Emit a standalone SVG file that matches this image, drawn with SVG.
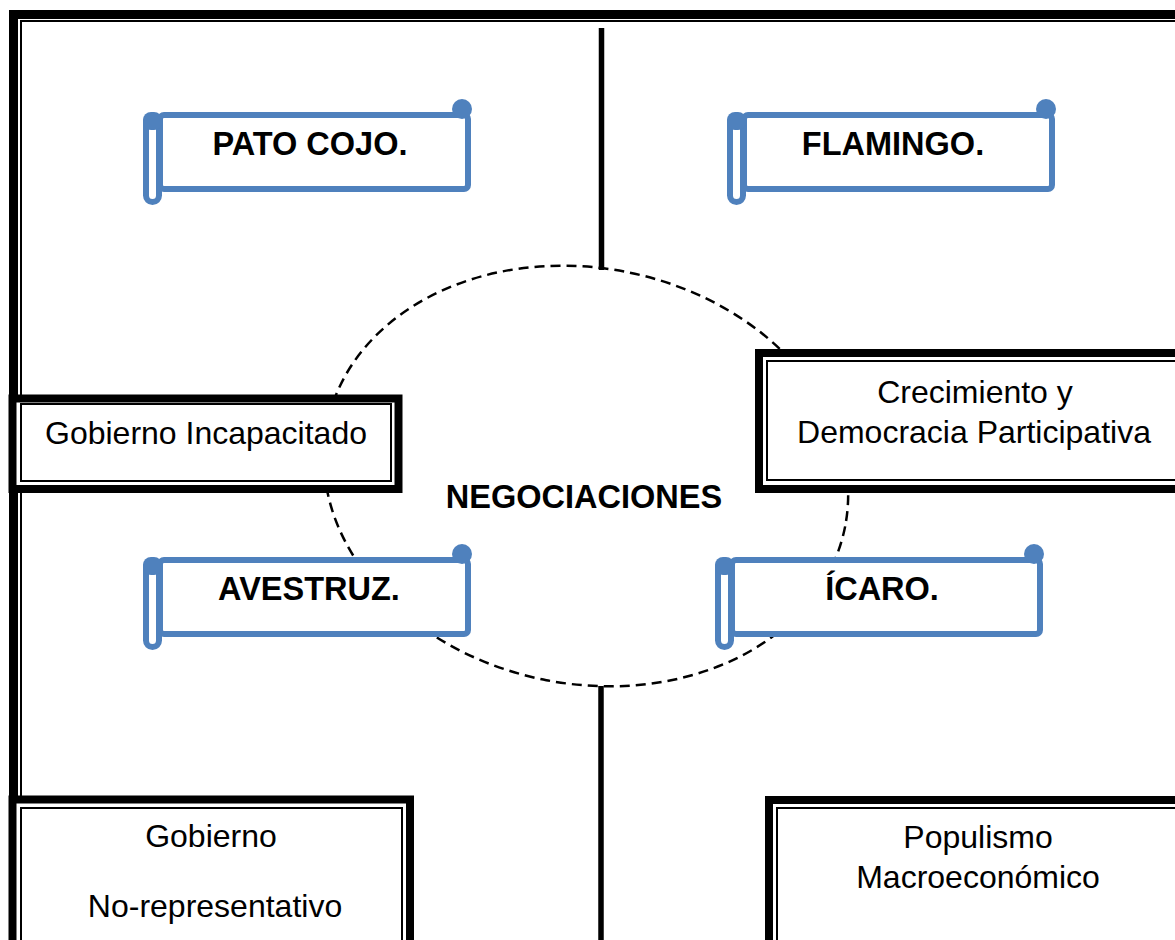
<svg xmlns="http://www.w3.org/2000/svg" width="1175" height="940" viewBox="0 0 1175 940">
<defs>
<style>
.t{font-family:"Liberation Sans",Arial,sans-serif;font-size:32px;fill:#000;text-anchor:middle}
.b{font-weight:bold;font-size:32.5px}
.thick{fill:#fff;stroke:#000;stroke-width:8}
.thin{fill:none;stroke:#000;stroke-width:2}
.sc{fill:#fff;stroke:#4F81BD;stroke-width:6}
.scf{fill:#4F81BD}
</style>
<g id="scrollShape">
<rect class="sc" x="160" y="115" width="308" height="74" rx="4"/>
<circle class="scf" cx="462" cy="109" r="10"/>
<rect x="146" y="116" width="13" height="86" rx="6.5" fill="#fff" stroke="#4F81BD" stroke-width="6"/>
<rect class="scf" x="143" y="112" width="19" height="18" rx="8"/>
</g>
</defs>
<rect width="1175" height="940" fill="#fff"/>
<g id="frame">
<rect x="13.5" y="14.5" width="1300" height="1000" fill="none" stroke="#000" stroke-width="9"/>
<rect class="thin" x="21" y="21" width="1300" height="1000"/>
</g>
<g id="connectors">
<ellipse cx="586" cy="476" rx="264" ry="208" transform="rotate(11 586 476)" fill="none" stroke="#000" stroke-width="2.5" stroke-dasharray="10 6"/>
<line x1="601.5" y1="28" x2="601.5" y2="270" stroke="#000" stroke-width="5.5"/>
<line x1="601" y1="686" x2="601" y2="945" stroke="#000" stroke-width="5.5"/>
</g>
<g id="negociaciones">
<text class="t b" x="584" y="508">NEGOCIACIONES</text>
</g>
<g id="pato">
<use href="#scrollShape"/>
<text class="t b" x="310" y="155">PATO COJO.</text>
</g>
<g id="flamingo">
<use href="#scrollShape" transform="translate(584 0)"/>
<text class="t b" x="893" y="155">FLAMINGO.</text>
</g>
<g id="avestruz">
<use href="#scrollShape" transform="translate(0 445)"/>
<text class="t b" x="309" y="600">AVESTRUZ.</text>
</g>
<g id="icaro">
<use href="#scrollShape" transform="translate(572 445)"/>
<text class="t b" x="882" y="600">ÍCARO.</text>
</g>
<g id="gobierno-incapacitado">
<rect class="thick" x="12.5" y="398.5" width="386" height="90.5" stroke-width="7"/>
<rect class="thin" x="21" y="404" width="370" height="77"/>
<text class="t" x="206" y="444">Gobierno Incapacitado</text>
</g>
<g id="crecimiento">
<rect class="thick" x="759" y="353" width="440" height="136"/>
<rect class="thin" x="767" y="361" width="424" height="119"/>
<text class="t" x="975" y="403">Crecimiento y</text>
<text class="t" x="974" y="443">Democracia Participativa</text>
</g>
<g id="gobierno-no-representativo">
<rect class="thick" x="12.5" y="799.5" width="397.5" height="200" stroke-width="7.5"/>
<rect class="thin" x="21" y="808" width="381" height="200"/>
<text class="t" x="211" y="847">Gobierno</text>
<text class="t" x="215" y="917">No-representativo</text>
</g>
<g id="populismo">
<rect class="thick" x="769" y="800" width="440" height="200"/>
<rect class="thin" x="777" y="808" width="404" height="200"/>
<text class="t" x="978" y="848">Populismo</text>
<text class="t" x="978" y="888">Macroeconómico</text>
</g>
</svg>
